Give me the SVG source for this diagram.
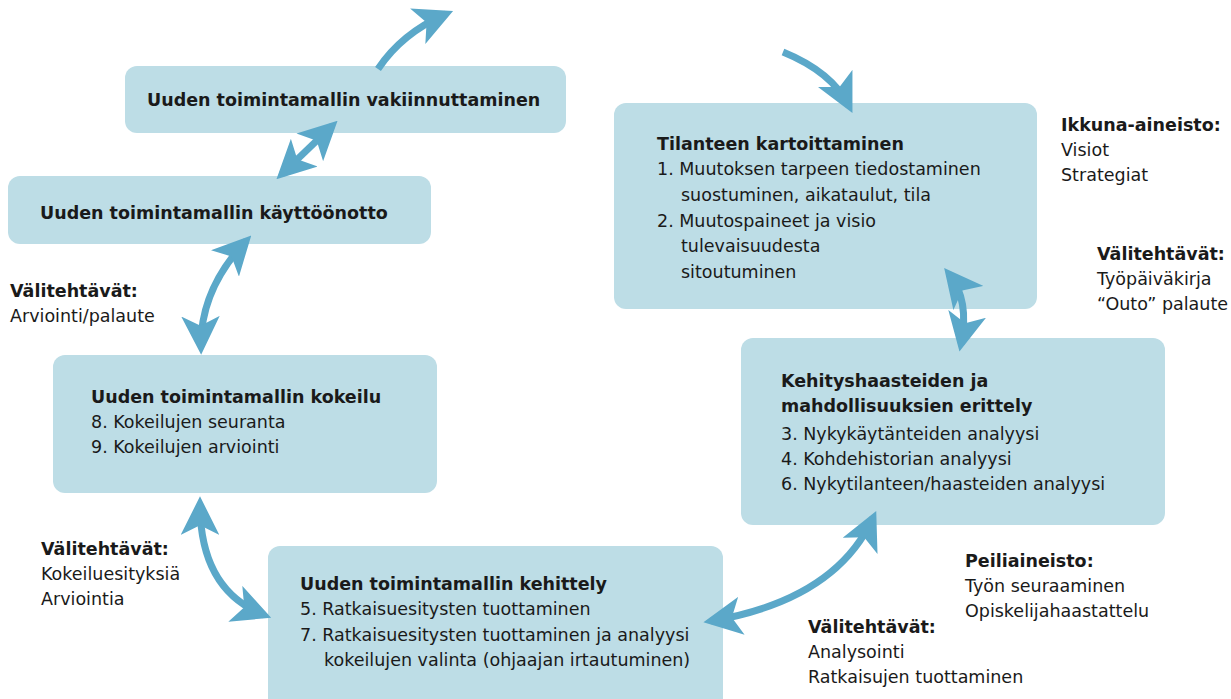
<svg xmlns="http://www.w3.org/2000/svg" width="1231" height="699" viewBox="0 0 1231 699">
<style>
.box{fill:#bddde6}
text{font-family:"DejaVu Sans","Liberation Sans",sans-serif;font-size:17.5px;fill:#1a1a1a}
.b{font-weight:bold}
.c{fill:none;stroke:#5ba8c9;stroke-width:7}
</style>
<defs>
<marker id="ah" viewBox="0 0 10 10" refX="8" refY="5" markerWidth="5.5" markerHeight="5.5" markerUnits="strokeWidth" orient="auto-start-reverse">
<path d="M0,0 L10,5 L0,10 L2.5,5 Z" fill="#5ba8c9"/>
</marker>
</defs>
<g id="n1"><rect class="box" x="125" y="66" width="441" height="67" rx="12"/>
<text class="b" x="147" y="106">Uuden toimintamallin vakiinnuttaminen</text></g>
<g id="n2"><rect class="box" x="8" y="176" width="423" height="68" rx="12"/>
<text class="b" x="40" y="219">Uuden toimintamallin käyttöönotto</text></g>
<g id="n3"><rect class="box" x="53" y="355" width="384" height="138" rx="12"/>
<text class="b" x="91" y="403">Uuden toimintamallin kokeilu</text>
<text x="91" y="428">8. Kokeilujen seuranta</text>
<text x="91" y="453">9. Kokeilujen arviointi</text></g>
<g id="n4"><rect class="box" x="268" y="546" width="455" height="165" rx="12"/>
<text class="b" x="300" y="590">Uuden toimintamallin kehittely</text>
<text x="300" y="615">5. Ratkaisuesitysten tuottaminen</text>
<text x="300" y="641">7. Ratkaisuesitysten tuottaminen ja analyysi</text>
<text x="324" y="666">kokeilujen valinta (ohjaajan irtautuminen)</text></g>
<g id="n5"><rect class="box" x="741" y="338" width="424" height="187" rx="12"/>
<text class="b" x="781" y="387">Kehityshaasteiden ja</text>
<text class="b" x="781" y="412">mahdollisuuksien erittely</text>
<text x="781" y="440">3. Nykykäytänteiden analyysi</text>
<text x="781" y="465">4. Kohdehistorian analyysi</text>
<text x="781" y="490">6. Nykytilanteen/haasteiden analyysi</text></g>
<g id="n6"><rect class="box" x="614" y="103" width="423" height="206" rx="12"/>
<text class="b" x="657" y="150">Tilanteen kartoittaminen</text>
<text x="657" y="175">1. Muutoksen tarpeen tiedostaminen</text>
<text x="681" y="201">suostuminen, aikataulut, tila</text>
<text x="657" y="227">2. Muutospaineet ja visio</text>
<text x="681" y="252">tulevaisuudesta</text>
<text x="681" y="278">sitoutuminen</text></g>
<g id="labels">
<text class="b" x="10" y="297">Välitehtävät:</text>
<text x="10" y="322">Arviointi/palaute</text>
<text class="b" x="41" y="555">Välitehtävät:</text>
<text x="41" y="580">Kokeiluesityksiä</text>
<text x="41" y="605">Arviointia</text>
<text class="b" x="808" y="633">Välitehtävät:</text>
<text x="808" y="658">Analysointi</text>
<text x="808" y="683">Ratkaisujen tuottaminen</text>
<text class="b" x="965" y="567">Peiliaineisto:</text>
<text x="965" y="592">Työn seuraaminen</text>
<text x="965" y="617">Opiskelijahaastattelu</text>
<text class="b" x="1061" y="131">Ikkuna-aineisto:</text>
<text x="1061" y="156">Visiot</text>
<text x="1061" y="181">Strategiat</text>
<text class="b" x="1097" y="260">Välitehtävät:</text>
<text x="1097" y="285">Työpäiväkirja</text>
<text x="1097" y="310">“Outo” palaute</text>
</g>
<g id="connectors">
<path class="c" d="M378,69 Q402,33 446,14" marker-end="url(#ah)"/>
<path class="c" d="M783,52 Q832,72 849,106" marker-end="url(#ah)"/>
<path class="c" d="M282,174 L332,126" marker-start="url(#ah)" marker-end="url(#ah)"/>
<path class="c" d="M246,241 Q200,290 201,347" marker-start="url(#ah)" marker-end="url(#ah)"/>
<path class="c" d="M200,504 Q200,590 264,615" marker-start="url(#ah)" marker-end="url(#ah)"/>
<path class="c" d="M711,621 Q835,600 873,518" marker-start="url(#ah)" marker-end="url(#ah)"/>
<path class="c" d="M949,274 Q970,300 961,344" marker-start="url(#ah)" marker-end="url(#ah)"/>
</g>
</svg>
